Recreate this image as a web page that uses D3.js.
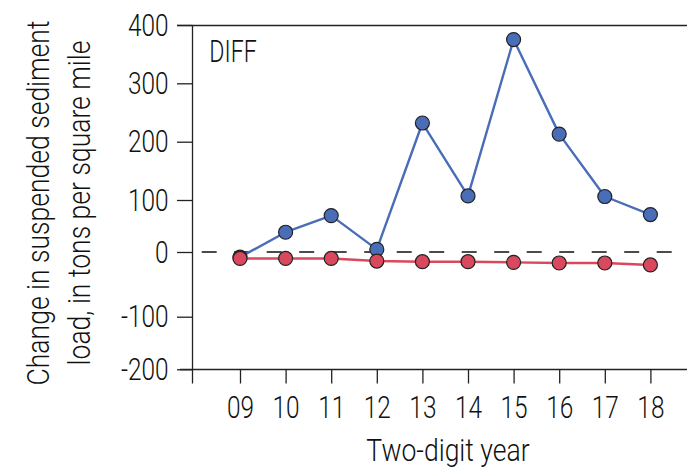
<!DOCTYPE html>
<html>
<head>
<meta charset="utf-8">
<script src="https://cdn.jsdelivr.net/npm/d3@7"></script>
<style>
  html, body { margin: 0; padding: 0; background: #fff; }
  svg { display: block; }
  text { font-family: Roboto, "Liberation Sans", Arial, sans-serif; font-weight: 300; fill: #111; }
</style>
</head>
<body>
<script>
// ---- data ----
const years = ["09", "10", "11", "12", "13", "14", "15", "16", "17", "18"];
const blueValues = [-8, 38, 70, 5, 232, 107, 375, 213, 106, 72];
const redValues = [-10, -10, -10, -14, -15, -15, -16, -17, -17, -20];
const yTickValues = [-200, -100, 0, 100, 200, 300, 400];
const yTickLabels = ["-200", "-100", "0", "100", "200", "300", "400"];
const panelLabel = "DIFF";
const xTitle = "Two-digit year";
const yTitleLines = ["Change in suspended sediment", "load, in tons per square mile"];

// ---- layout ----
const W = 687, H = 468;
const axisX = 192.5, axisY = 369.5, topY = 25;
const svg = d3.select("body").append("svg").attr("width", W).attr("height", H);

const x = d3.scaleLinear().domain([9, 18]).range([240, 650.4]);
// reference axis spacing is slightly irregular; follow its tick positions
const y = d3.scaleLinear().domain(yTickValues).range([369.3, 316.7, 252, 200, 141.7, 83.3, 25]);

const ink = "#222";
const NARROW_TICK = 0.8, NARROW_TITLE = 0.87;

// top frame line
svg.append("line").attr("x1", 177).attr("x2", W).attr("y1", topY + 0.5).attr("y2", topY + 0.5)
  .attr("stroke", ink).attr("stroke-width", 1.3);

// y axis
const yAxis = d3.axisLeft(y).tickValues(yTickValues).tickFormat((d, i) => yTickLabels[i]).tickSize(15.5).tickPadding(8);
const gy = svg.append("g").attr("transform", `translate(${axisX},0)`).call(yAxis);
gy.select(".domain").remove();
gy.selectAll(".tick line").attr("stroke", ink).attr("stroke-width", 1.3);
gy.selectAll(".tick text").attr("font-size", 30.5).attr("dy", null).attr("x", 0).attr("y", 0)
  .attr("transform", `translate(-24,10) scale(${NARROW_TICK},1)`).attr("fill", "#111");
svg.append("line").attr("x1", axisX).attr("x2", axisX).attr("y1", topY).attr("y2", 383.5)
  .attr("stroke", ink).attr("stroke-width", 1.3);

// x axis
const xAxis = d3.axisBottom(x).tickValues(years.map(d => +d)).tickFormat((d, i) => years[i]).tickSize(14).tickPadding(10);
const gx = svg.append("g").attr("transform", `translate(0,${axisY})`).call(xAxis);
gx.select(".domain").remove();
gx.selectAll(".tick line").attr("stroke", ink).attr("stroke-width", 1.3);
gx.selectAll(".tick text").attr("font-size", 30.5).attr("dy", null).attr("x", 0).attr("y", 0)
  .attr("transform", `translate(0,48.8) scale(${NARROW_TICK},1)`).attr("fill", "#111");
svg.append("line").attr("x1", 180).attr("x2", W).attr("y1", axisY).attr("y2", axisY)
  .attr("stroke", ink).attr("stroke-width", 1.3);

// zero reference dashed line
svg.append("line").attr("x1", 201.7).attr("x2", 671.7).attr("y1", y(0)).attr("y2", y(0))
  .attr("stroke", "#111").attr("stroke-width", 1.3).attr("stroke-dasharray", "15 17.5");

// series
const series = [
  { values: blueValues, line: "#4a6db8", fill: "#4a6db8" },
  { values: redValues, line: "#d9485c", fill: "#d9485c" }
];
const lineGen = d3.line().x((d, i) => x(+years[i])).y(d => y(d));
series.forEach(s => {
  svg.append("path").datum(s.values).attr("d", lineGen)
    .attr("fill", "none").attr("stroke", s.line).attr("stroke-width", 2.4).attr("stroke-linejoin", "round");
  svg.append("g").selectAll("circle").data(s.values).join("circle")
    .attr("cx", (d, i) => x(+years[i])).attr("cy", d => y(d)).attr("r", 7)
    .attr("fill", s.fill).attr("stroke", ink).attr("stroke-width", 1.2);
});

// panel label
svg.append("text").attr("transform", "translate(209.3,61.7) scale(0.76,1)").attr("font-size", 30.5).text(panelLabel);

// axis titles
svg.append("text").attr("transform", `translate(448,461) scale(${NARROW_TITLE},1)`)
  .attr("text-anchor", "middle").attr("font-size", 30.5).text(xTitle);
const baselines = [48.5, 90];
yTitleLines.forEach((t, i) => {
  svg.append("text").attr("transform", `translate(${baselines[i]},203) rotate(-90) scale(${NARROW_TITLE},1)`)
    .attr("text-anchor", "middle").attr("font-size", 30.5).text(t);
});
</script>
</body>
</html>
